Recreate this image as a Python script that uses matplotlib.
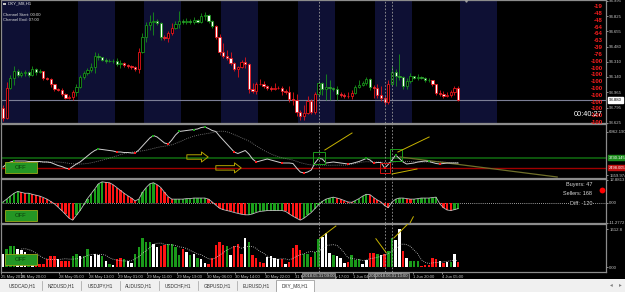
import numpy as np
import pandas as pd
import matplotlib
matplotlib.use("Agg")
import matplotlib.pyplot as plt
from matplotlib.patches import Rectangle

plt.rcParams['font.family'] = ['Liberation Sans', 'DejaVu Sans']

# ---------------- data ----------------
first_open = 93.790
close = [93.677, 94.015, 94.128, 94.207, 94.161, 94.184, 94.195, 94.161, 94.229, 94.195,
         94.207, 94.128, 94.116, 94.060, 94.004, 93.993, 93.948, 93.903, 93.914, 93.970,
         94.026, 94.139, 94.184, 94.218, 94.252, 94.375, 94.364, 94.330, 94.319, 94.319,
         94.319, 94.285, 94.297, 94.274, 94.263, 94.252, 94.229, 94.420, 94.589, 94.724,
         94.758, 94.770, 94.747, 94.589, 94.578, 94.634, 94.691, 94.736, 94.770, 94.758,
         94.770, 94.758, 94.781, 94.758, 94.826, 94.837, 94.770, 94.713, 94.589, 94.420,
         94.375, 94.353, 94.297, 94.229, 94.252, 94.308, 94.285, 94.004, 93.981, 94.060,
         94.060, 94.038, 94.015, 94.004, 94.015, 94.015, 93.981, 93.970, 93.891, 93.880,
         93.745, 93.700, 93.734, 93.869, 93.745, 93.948, 94.071, 94.004, 94.026, 94.015,
         94.004, 93.948, 93.936, 93.925, 93.925, 93.959, 94.026, 94.049, 94.071, 94.116,
         94.026, 94.015, 93.936, 93.903, 93.857, 94.060, 94.195, 94.150, 94.139, 94.038,
         94.094, 94.150, 94.128, 94.139, 94.128, 94.105, 94.105, 94.060, 93.959, 93.948,
         93.925, 93.936, 93.970, 94.015, 93.880]
high = [93.824, 94.083, 94.161, 94.263, 94.229, 94.207, 94.218, 94.207, 94.263, 94.240,
        94.229, 94.195, 94.139, 94.128, 94.060, 94.015, 94.015, 93.959, 93.936, 93.993,
        94.060, 94.161, 94.207, 94.240, 94.297, 94.420, 94.409, 94.364, 94.353, 94.342,
        94.342, 94.353, 94.330, 94.308, 94.285, 94.274, 94.263, 94.466, 94.634, 94.758,
        94.837, 94.871, 94.792, 94.758, 94.612, 94.657, 94.747, 94.770, 94.882, 94.792,
        94.803, 94.792, 94.815, 94.792, 94.860, 94.871, 94.848, 94.781, 94.724, 94.623,
        94.522, 94.443, 94.420, 94.308, 94.263, 94.330, 94.364, 94.297, 94.071, 94.083,
        94.116, 94.094, 94.049, 94.038, 94.071, 94.038, 94.038, 94.004, 94.038, 93.970,
        93.948, 93.767, 93.824, 93.925, 93.891, 93.970, 94.094, 94.083, 94.173, 94.105,
        94.026, 94.038, 93.970, 93.959, 93.970, 93.993, 94.049, 94.105, 94.094, 94.139,
        94.128, 94.049, 94.060, 94.038, 93.925, 94.105, 94.263, 94.229, 94.398, 94.150,
        94.128, 94.184, 94.150, 94.173, 94.150, 94.139, 94.128, 94.105, 94.060, 93.993,
        93.981, 93.970, 93.993, 94.038, 94.038]
low = [93.644, 93.666, 94.004, 94.049, 94.139, 94.139, 94.150, 94.139, 94.150, 94.161,
       94.184, 94.105, 94.105, 94.026, 93.981, 93.981, 93.925, 93.891, 93.891, 93.880,
       93.925, 94.015, 94.116, 94.161, 94.195, 94.184, 94.330, 94.319, 94.297, 94.308,
       94.297, 94.263, 94.240, 94.252, 94.240, 94.229, 94.207, 94.184, 94.409, 94.533,
       94.668, 94.612, 94.724, 94.556, 94.556, 94.533, 94.612, 94.679, 94.691, 94.736,
       94.736, 94.736, 94.736, 94.747, 94.747, 94.781, 94.747, 94.691, 94.567, 94.387,
       94.353, 94.330, 94.274, 94.207, 94.139, 94.240, 94.240, 93.959, 93.959, 93.948,
       94.049, 94.015, 93.993, 93.981, 93.993, 94.004, 93.936, 93.948, 93.857, 93.824,
       93.700, 93.655, 93.655, 93.722, 93.722, 93.722, 93.914, 93.936, 93.880, 93.880,
       93.981, 93.880, 93.914, 93.903, 93.903, 93.891, 93.948, 94.015, 94.038, 94.049,
       93.993, 93.903, 93.903, 93.869, 93.824, 93.835, 94.049, 94.038, 94.105, 94.004,
       94.004, 94.071, 94.116, 94.105, 94.116, 94.083, 94.083, 94.038, 93.936, 93.925,
       93.903, 93.914, 93.914, 93.936, 93.869]
# candle outline colour from the trend indicator (g = up trend, r = down trend)
trend = ("rr" + "ggggggggg" + "rrrrrrrrr" + "ggggggggggggg" + "rrrrr" + "gggggg" + "rrr"
         + "ggggggggggg" + "rrrrrrrrrrrrrrrrrrrrrrrrrrrr" + "gggggg" + "rrrr" + "ggggg"
         + "rrrrr" + "ggggggggggg" + "rrrrrrrr")
current_price = 93.880
price_ticks = [94.995, 94.825, 94.655, 94.480, 94.310, 94.140, 93.965, 93.795, 93.625]
sessions = [(-1.0, 7.4), (20.4, 30.5), (38.4, 48.5), (59.4, 69.5), (80.4, 90.5),
            (101.4, 111.5), (124.4, 134.5)]
strength = [-19, -48, -48, -64, -64, -63, -39, -76, -100, -100, -100, -100, -100,
            -100, -100, -100, -100, -100]
event_bars = [86, 104, 106]
event_labels = ["2018.05.31 09:00", "2018.06.01 11:00", "2018.06.01 13:00"]

# oscillator panel
osc = [2566, 2943, 3194, 3320, 3320, 3320, 3320, 3257, 3257, 3257,
       3257, 3194, 3194, 3131, 2943, 2754, 2629, 2440, 2314, 2629,
       2943, 3194, 3571, 3948, 4324, 4638, 4827, 4764, 4701, 4638,
       4576, 4450, 4450, 4387, 4387, 4324, 4324, 4701, 5204, 5706,
       6208, 6522, 6334, 5957, 5580, 5455, 5957, 6585, 7025, 7088,
       7150, 7213, 7276, 7339, 7527, 7590, 7402, 7150, 7025, 6460,
       5957, 5455, 4952, 4450, 4262, 4450, 4638, 4198, 3571, 3194,
       3320, 3445, 3571, 3445, 3320, 3194, 3068, 3068, 3068, 3006,
       2440, 1938, 1812, 1938, 2189, 3068, 3634, 3571, 3068, 3131,
       3194, 3131, 3068, 3006, 2943, 3006, 3131, 3257, 3445, 3634,
       3445, 3068, 3131, 3131, 2440, 2900, 3445, 4073, 3634, 3194,
       2943, 3006, 3068, 3194, 3257, 3320, 3257, 3131, 3006, 2943,
       3006, 3068, 3068, 3068, 3068]
osc_peaks = [3, 26, 41, 48, 52, 55, 86, 99, 107, 116]
osc_troughs = [18, 31, 36, 45, 63, 69, 76, 82, 94, 101, 104, 119]
osc_buy_level = 3730.145
osc_sell_level = 2498.005
osc_top_label = 6962.190
osc_bottom_label = 1559.974
box_up = [86, 107]
box_down = [104]
trend_lines_osc = [((87.7, 4701), (95.1, 6836)), ((107.6, 4450), (116.1, 6334)),
                   ((106.0, 1687), (112.8, 2314))]
olive_line_osc = ((108.2, 3822), (151.0, 1310))
arrows_osc = [((50.1, 3822), (55.9, 3822)), ((58.0, 2455), (64.9, 2455))]

# histogram panel
hist = [0.5, 2.1, 3.8, 5.4, 6.4, 5.9, 5.4, 5.4, 4.8, 4.3,
        3.8, 3.0, 2.1, 0.8, -0.5, -2.4, -4.3, -6.4, -8.6, -9.7,
        -7.0, -4.3, -1.1, 2.4, 5.1, 7.8, 10.7, 11.8, 11.5, 11.3,
        10.2, 8.6, 7.0, 5.4, 4.0, 2.7, 1.1, 2.1, 5.9, 8.6,
        10.7, 11.3, 10.2, 8.6, 5.9, 3.5, 2.1, 2.1, 2.1, 2.1,
        2.4, 2.4, 2.7, 2.7, 2.7, 2.7, 2.1, 0.5, -1.3, -3.0,
        -3.8, -4.3, -4.8, -5.4, -5.9, -6.4, -6.7, -6.7, -6.2, -5.4,
        -4.8, -4.6, -4.3, -4.3, -4.3, -4.3, -4.3, -4.8, -6.2, -7.5,
        -8.6, -9.7, -8.6, -7.0, -5.4, -3.2, -1.1, 0.8, 2.1, 2.7,
        3.2, 2.7, 2.1, 1.3, 0.5, 0.3, 1.3, 2.4, 3.8, 4.8,
        4.6, 3.0, 1.6, 0.5, -1.6, -2.7, 0.5, 2.1, 2.7, 2.7,
        2.4, 2.1, 2.1, 2.4, 2.7, 2.7, 2.7, 3.0, 3.2, -0.5,
        -2.7, -4.0, -4.3, -3.8, -3.2]
buyers, sellers, diff = 47, 168, -120
hist_top_label, hist_bottom_label = 12.8813, -11.2772

# volume panel
volume = [552, 764, 891, 891, 764, 722, 637, 552, 509, 340,
          127, 127, 340, 467, 467, 352, 242, 242, 242, 454,
          564, 454, 454, 776, 454, 564, 497, 454, 255, 140,
          72, 327, 382, 352, 267, 182, 564, 849, 1231, 1061,
          1061, 989, 849, 891, 921, 989, 989, 849, 497, 751,
          637, 497, 539, 382, 352, 182, 140, 382, 921, 1061,
          921, 891, 522, 891, 989, 564, 1231, 1061, 497, 382,
          212, 182, 424, 454, 382, 327, 327, 140, 212, 806,
          921, 709, 564, 539, 424, 637, 1201, 1273, 1443, 607,
          522, 454, 382, 182, 212, 497, 284, 327, 140, 284,
          607, 607, 539, 497, 539, 666, 1231, 1133, 1613, 666,
          382, 242, 242, 242, 30, 72, 72, 382, 352, 242,
          182, 212, 212, 564, 212]
vol_kind = ("wgggwwwgwr" "rrrrrwrrrg" "gwggwwwgwg" "wrrgwwgggg" "gwwrrggggr"
            "wgwgwwrrrr" "rgwrrrwgrr" "rrwwwwrwrr" "rrggrggwww" "gwwwrgggww"
            "rrgwrggwwr" "wgggrrrrrw" "rwgwr")
vol_top_label = 1612.8
trend_lines_vol = [((86.4, 1231), (90.7, 1740)), ((101.6, 1201), (104.4, 607)),
                   ((106.5, 1231), (111.1, 1950))]

time_pos = [-0.54, 4.9, 15.3, 23.4, 31.3, 39.2, 47.4, 55.6, 63.2, 71.4, 79.6, 87.5,
            95.4, 111.7, 119.6]
time_labels = ["25 May 2018", "25 May 20:00", "28 May 05:00", "28 May 13:00",
               "29 May 01:00", "29 May 11:00", "29 May 19:00", "30 May 06:00",
               "30 May 14:00", "30 May 22:00", "31 May 06:00", "31 May 17:00",
               "1 Jun 04:00", "1 Jun 20:00", "4 Jun 05:00"]
tabs = ["USDCAD,H1", "NZDUSD,H1", "USDJPY,H1", "AUDUSD,H1", "USDCHF,H1",
        "GBPUSD,H1", "EURUSD,H1", "DXY_M8,H1"]
active_tab = "DXY_M8,H1"

# ---------------- styling ----------------
W, H = 625, 292
BG = 'black'
GREEN = '#17921a'
RED = '#e8141a'
NAVY = '#0e1034'
GRID = '#8c8c8c'
TXT = '#c8c8c8'


def rect(x0, y0, x1, y1):
    return [x0 / W, 1 - y1 / H, (x1 - x0) / W, (y1 - y0) / H]


fig = plt.figure(figsize=(W / 100, H / 100), dpi=100, facecolor=BG)
ax1 = fig.add_axes(rect(1, 0, 606, 123))
ax2 = fig.add_axes(rect(1, 124, 606, 178))
ax3 = fig.add_axes(rect(1, 179, 606, 223))
ax4 = fig.add_axes(rect(1, 224, 606, 272))
axes = [ax1, ax2, ax3, ax4]

n = len(close)
idx = np.arange(n)
XL = (-0.54, 164.3)
for ax in axes:
    ax.set_facecolor(BG)
    ax.set_xlim(*XL)
    for s in ax.spines.values():
        s.set_color(GRID)
        s.set_linewidth(0.9)
    ax.yaxis.tick_right()
    ax.tick_params(axis='y', labelsize=3.1, colors=TXT, length=1.5, width=0.5, pad=0.8)
    ax.tick_params(axis='x', bottom=False, labelbottom=False)
    for b in event_bars:
        ax.axvline(b, color='#9a9a9a', lw=0.6, ls=(0, (2, 2)), zorder=4)

# ---- main price chart ----
o = np.array([first_open] + close[:-1])
c = np.array(close)
hi = np.maximum(np.array(high), np.maximum(o, c))
lo = np.minimum(np.array(low), np.minimum(o, c))
ecol = [GREEN if t == 'g' else RED for t in trend]
face = ['black' if cc >= oo else 'white' for oo, cc in zip(o, c)]
for s0, s1 in sessions:
    ax1.axvspan(s0, s1, color=NAVY, lw=0, zorder=0)
ax1.axhline(current_price, color='#7c7f96', lw=0.8, zorder=1)
ax1.vlines(idx, lo, hi, colors=ecol, lw=0.6, zorder=2)
body = np.maximum(np.abs(c - o), 0.004)
ax1.bar(idx, body, bottom=np.minimum(o, c), width=0.62, color=face, edgecolor=ecol,
        linewidth=0.6, zorder=3)
ax1.set_ylim(93.621, 95.006)
ax1.set_yticks(price_ticks)
ax1.set_yticklabels([f"{p:.3f}" for p in price_ticks])
ax1.annotate(f"{current_price:.3f}", xy=(1.0, current_price), xycoords=('axes fraction', 'data'),
             xytext=(2.2, 0), textcoords='offset points', fontsize=3.1, color='black',
             va='center', ha='left', annotation_clip=False,
             bbox=dict(boxstyle='square,pad=0.15', fc='white', ec='white'))
ax1.plot([126.2], [95.006], marker='v', color='#a0a0a0', ms=2.5, clip_on=False, zorder=5)

for k, v in enumerate(strength):
    fig.text(603 / W, 1 - (6.7 + 6.82 * k) / H, str(v), ha='right', va='center',
             fontsize=4.4, color='#ff1e1e', weight='bold')
fig.text(603 / W, 1 - 115 / H, "00:40:27", ha='right', va='center', fontsize=5.3, color='white')
fig.text(8 / W, 1 - 3.6 / H, "DXY_M8,H1", ha='left', va='center', fontsize=3.2, color='#e0e0e0')
fig.patches.append(Rectangle((3 / W, 1 - 5 / H), 3 / W, 2.5 / H, transform=fig.transFigure,
                             fc='#c0c0c0', ec='none'))
fig.text(3 / W, 1 - 14.7 / H, "Channel Start: 00:00", ha='left', va='center', fontsize=3.0, color='#e0e0e0')
fig.text(3 / W, 1 - 20.2 / H, "Channel End: 07:00", ha='left', va='center', fontsize=3.0, color='#e0e0e0')

# ---- oscillator panel ----
osc_arr = np.array(osc, dtype=float)
ax2.axhline(osc_buy_level, color='#0d560d', lw=1.4, zorder=1)
ax2.axhline(osc_sell_level, color='#a00000', lw=1.0, zorder=1)
ma = pd.Series(osc_arr).rolling(14, min_periods=1).mean()
ax2.plot(idx, ma, color='#8a8a8a', lw=0.6, ls=(0, (1, 1.5)), zorder=2)
ax2.plot(idx, osc_arr, color='#d0d0d0', lw=0.7, zorder=3)
ax2.plot(osc_peaks, osc_arr[osc_peaks], 's', color='#16a016', ms=1.6, mew=0, zorder=4)
ax2.plot(osc_troughs, osc_arr[osc_troughs], 's', color='#ff1a1a', ms=1.6, mew=0, zorder=4)
ax2.plot(box_up, osc_arr[box_up], 's', mfc='none', mec='#1a9a1a', ms=8.5, mew=0.7, zorder=4)
ax2.plot(box_down, osc_arr[box_down], 's', mfc='none', mec='#d01010', ms=6.5, mew=0.7, zorder=4)
for (x0, y0), (x1, y1) in trend_lines_osc:
    ax2.plot([x0, x1], [y0, y1], color='#c8b400', lw=0.7, zorder=4)
(ox0, oy0), (ox1, oy1) = olive_line_osc
ax2.plot([ox0, ox1], [oy0, oy1], color='#6f6f2a', lw=0.9, zorder=2)
for (x0, y0), (x1, y1) in arrows_osc:
    ax2.annotate('', xy=(x1, y1), xytext=(x0, y0),
                 arrowprops=dict(arrowstyle='simple,head_length=0.6,head_width=0.9,tail_width=0.4',
                                 fc='none', ec='#b5a300', lw=0.7, shrinkA=0, shrinkB=0,
                                 mutation_scale=8), zorder=5)
ax2.set_ylim(1184, 7967)
ax2.set_yticks([osc_top_label, osc_bottom_label])
ax2.set_yticklabels([f"{osc_top_label:.3f}", f"{osc_bottom_label:.3f}"])
for val, col in [(osc_buy_level, '#1c8c1c'), (osc_sell_level, '#c01010')]:
    ax2.annotate(f"{val:.3f}", xy=(1.0, val), xycoords=('axes fraction', 'data'),
                 xytext=(2.2, 0), textcoords='offset points', fontsize=2.9, color='white',
                 va='center', ha='left', annotation_clip=False,
                 bbox=dict(boxstyle='square,pad=0.15', fc=col, ec=col))

# ---- histogram panel ----
hist_arr = np.array(hist)
hcol = [GREEN] + [('#1aa01a' if hist_arr[i] >= hist_arr[i - 1] else '#ff1414') for i in range(1, n)]
ax3.bar(idx, hist_arr, width=0.62, color=hcol, lw=0, zorder=2)
ax3.plot(idx, hist_arr, color='#bdbdbd', lw=0.6, zorder=3)
ax3.axhline(0, color='#d0d0d0', lw=0.6, ls=(0, (1, 1.5)), zorder=1)
ax3.set_ylim(-11.3, 13.4)
ax3.set_yticks([hist_top_label, 0.0, hist_bottom_label])
ax3.set_yticklabels([f"{hist_top_label:.4f}", "0.00", f"{hist_bottom_label:.4f}"])
ax3.text(160.5, 10.2, f"Buyers: {buyers}", ha='right', va='center', fontsize=4.0, color='#d8d8d8')
ax3.text(160.5, 5.1, f"Sellers: {sellers}", ha='right', va='center', fontsize=4.0, color='#d8d8d8')
ax3.text(160.5, -0.2, f"Diff: {diff}", ha='right', va='center', fontsize=4.0, color='#d8d8d8',
         bbox=dict(boxstyle='square,pad=0.1', fc='black', ec='none'))
ax3.plot([163.2], [7.3], 'o', color='#ff0000', ms=4.2, mew=0, zorder=5)
ax3.plot([110.9, 111.8], [-11.3, -7.8], color='#c8b400', lw=0.7, zorder=4)

# ---- volume panel ----
kind_col = {'g': '#1a9a1a', 'r': '#ff1414', 'w': '#ffffff'}
vcol = [kind_col[k] for k in vol_kind]
vol_arr = np.array(volume, dtype=float)
ax4.bar(idx, vol_arr, width=0.66, color=vcol, lw=0, zorder=2)
vma = pd.Series(vol_arr).rolling(6).mean()
ax4.plot(idx, vma, color='#d0d0d0', lw=0.6, ls=(0, (1, 1.5)), zorder=3)
for (x0, y0), (x1, y1) in trend_lines_vol:
    ax4.plot([x0, x1], [y0, y1], color='#c8b400', lw=0.7, zorder=4)
ax4.set_ylim(-212, 1825)
ax4.set_yticks([vol_top_label, 0])
ax4.set_yticklabels([f"{vol_top_label:.1f}", "0.00"])
ax4.set_xticks(time_pos)
ax4.set_xticklabels(time_labels)
ax4.tick_params(axis='x', bottom=True, labelbottom=True, labelsize=3.0, colors=TXT,
                length=1.5, width=0.5, pad=0.8)
for lab in ax4.get_xticklabels():
    lab.set_ha('left')
for b, lab in zip(event_bars, event_labels):
    ax4.annotate(lab, xy=(b, 0), xycoords=('data', 'axes fraction'), xytext=(0, -3.0),
                 textcoords='offset points', ha='center', va='center', fontsize=3.0,
                 color='#d8d8d8', annotation_clip=False, zorder=6,
                 bbox=dict(boxstyle='square,pad=0.25', fc='#3c3c3c', ec='#a8a8a8', lw=0.5))

# OFF buttons
for y0, y1 in [(162, 173), (210, 221), (254, 265)]:
    fig.patches.append(Rectangle((5 / W, 1 - y1 / H), 32 / W, (y1 - y0) / H,
                                 transform=fig.transFigure, fc='#249624', ec='#9aa81a', lw=0.6, zorder=10))
    fig.text(21 / W, 1 - (y0 + y1) / 2 / H, "OFF", ha='center', va='center', fontsize=4.2,
             color='#0a3a0a', zorder=11)

# tab strip
fig.patches.append(Rectangle((0, 0), 1, 13 / H, transform=fig.transFigure, fc='#f0f0f0',
                             ec='none', zorder=8))
for k, t in enumerate(tabs):
    xc = 22 + 39.0 * k
    if t == active_tab:
        fig.patches.append(Rectangle(((xc - 19) / W, 0), 38 / W, 12.5 / H, transform=fig.transFigure,
                                     fc='white', ec='#909090', lw=0.5, zorder=9))
    else:
        fig.add_artist(plt.Line2D([(xc + 19.5) / W] * 2, [2 / H, 11 / H], color='#a0a0a0', lw=0.5, zorder=9))
    fig.text(xc / W, 6.5 / H, t, ha='center', va='center', fontsize=3.4, color='#303030', zorder=10)
fig.text(611 / W, 7 / H, "\u25c2", ha='center', va='center', fontsize=4, color='#808080', zorder=10)
fig.text(620 / W, 7 / H, "\u25b8", ha='center', va='center', fontsize=4, color='#808080', zorder=10)

fig.savefig("out.png", dpi=100, facecolor=BG)
